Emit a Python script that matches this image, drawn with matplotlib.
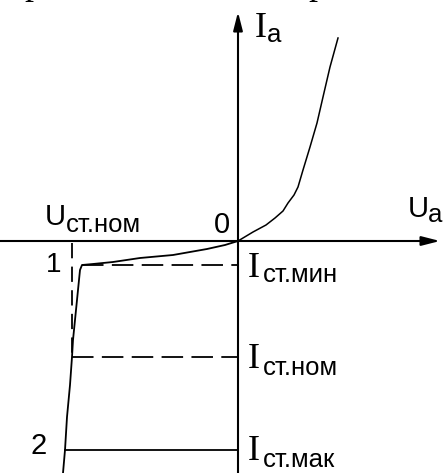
import matplotlib
matplotlib.use("Agg")
import matplotlib.pyplot as plt

plt.rcParams["lines.scale_dashes"] = False

# Zener diode I-V characteristic (arbitrary units)
forward_u = [0.0, 1.5, 2.8, 3.7, 4.5, 5.0, 5.6, 6.0, 6.5, 7.2, 7.9, 8.5, 9.2, 10.0]
forward_i = [0.0, 0.9, 1.6, 2.3, 3.0, 3.8, 4.6, 5.4, 7.1, 9.4, 11.8, 14.4, 17.4, 20.3]

reverse_u = [0.0, -1.3, -3.1, -6.5, -9.8, -12.5, -14.5, -15.6, -15.8, -16.1,
             -16.3, -16.5, -16.6, -16.8, -17.1, -17.3, -17.5]
reverse_i = [0.0, -0.4, -0.8, -1.4, -1.7, -2.1, -2.3, -2.4, -2.9, -5.9,
             -7.9, -9.9, -11.6, -14.4, -17.6, -20.9, -23.2]

u_st_nom = -16.6          # nominal stabilisation voltage
u_knee = -15.6            # start of breakdown
u_at_max = -17.3          # voltage at maximum current
i_st_min = -2.4
i_st_nom = -11.6
i_st_max = -20.9

W, H = 445, 473
fig = plt.figure(figsize=(W / 100, H / 100), dpi=100)
ax = fig.add_axes([0, 0, 1, 1])
ax.set_xlim(-23.8, 20.7)
ax.set_ylim(-23.2, 24.1)
ax.axis("off")

k = "black"
axis_lw = 1.5
curve_lw = 1.1
dash = (0, (15.5, 6.0))

# coordinate axes with arrowheads
ax.annotate("", xy=(20.2, 0), xytext=(-23.8, 0),
            arrowprops=dict(arrowstyle="-|>,head_length=1.1,head_width=0.28",
                            lw=axis_lw, color=k, shrinkA=0, shrinkB=0),
            annotation_clip=False)
ax.annotate("", xy=(0, 22.9), xytext=(0, -23.2),
            arrowprops=dict(arrowstyle="-|>,head_length=1.1,head_width=0.28",
                            lw=axis_lw, color=k, shrinkA=0, shrinkB=0),
            annotation_clip=False)

# characteristic
ax.plot(forward_u, forward_i, color=k, lw=curve_lw)
ax.plot(reverse_u, reverse_i, color=k, lw=curve_lw + 0.2)

# reference levels
ax.plot([u_knee, 0], [i_st_min, i_st_min], color=k, lw=curve_lw + 0.2, linestyle=dash)
ax.plot([u_st_nom, 0], [i_st_nom, i_st_nom], color=k, lw=curve_lw + 0.2, linestyle=dash)
ax.plot([u_at_max, 0], [i_st_max, i_st_max], color=k, lw=curve_lw + 0.2)
ax.plot([u_st_nom, u_st_nom], [-0.2, i_st_nom], color=k, lw=curve_lw + 0.2,
        linestyle=(0, (11.0, 6.0)))

sans = "Liberation Sans"
serif = "Liberation Serif"
main_fs = 21
sub_fs = 18.5
i_fs = 26


def sub_label(x, y, main, sub, main_font, main_size, dx, dy):
    ax.text(x, y, main, family=main_font, fontsize=main_size, color=k,
            ha="left", va="baseline")
    ax.text(x + dx, y - dy, sub, family=sans, fontsize=sub_fs, color=k,
            ha="left", va="baseline")


# axis names
sub_label(1.7, 20.4, "I", "a", serif, i_fs, 1.2, 0.5)
sub_label(17.0, 2.4, "U", "a", sans, main_fs, 2.0, 0.5)
sub_label(-19.3, 1.6, "U", "ст.ном", sans, main_fs, 2.1, 0.7)
ax.text(-2.4, 0.8, "0", family=sans, fontsize=main_fs, color=k,
        ha="left", va="baseline")

# current levels
sub_label(1.0, i_st_min - 1.2, "I", "ст.мин", serif, i_fs, 1.5, 0.5)
sub_label(1.0, i_st_nom - 1.1, "I", "ст.ном", serif, i_fs, 1.5, 0.7)
sub_label(1.0, i_st_max - 1.0, "I", "ст.мак", serif, i_fs, 1.5, 0.7)

# breakdown points
ax.text(-19.2, i_st_min - 0.7, "1", family=sans, fontsize=main_fs - 1, color=k,
        ha="left", va="baseline")
ax.text(-20.8, i_st_max - 0.4, "2", family=sans, fontsize=main_fs, color=k,
        ha="left", va="baseline")

# descenders of the preceding text line, cut by the top edge
fig.text(24 / W, 1 + 6 / H, "р", family=serif, fontsize=i_fs, color=k,
         ha="left", va="baseline")
fig.text(308 / W, 1 + 6 / H, "р", family=serif, fontsize=i_fs, color=k,
         ha="left", va="baseline")

fig.savefig("out.png", dpi=100)
